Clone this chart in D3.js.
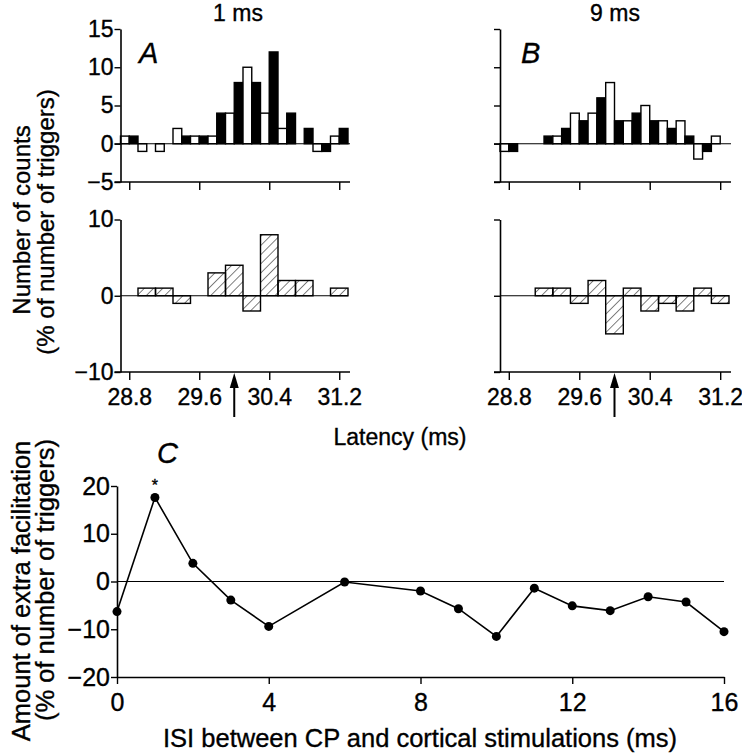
<!DOCTYPE html>
<html lang="en">
<head>
  <meta charset="UTF-8">
  <title>Extra facilitation</title>
  <style>
    body { margin: 0; background: #fff; }
    text { font-family: "Liberation Sans", Arial, sans-serif; fill: #000; stroke: #000; stroke-width: 0.35px; }
  </style>
</head>
<body>
<script src="https://cdn.jsdelivr.net/npm/d3@7/dist/d3.min.js"></script>
<script>
  const width = 742, height = 756

  // histogram bins (ms), each bin 0.2 ms, split into open (left) and filled (right) halves
  const binStarts = [28.7, 28.9, 29.1, 29.3, 29.5, 29.7, 29.9, 30.1, 30.3, 30.5, 30.7, 30.9, 31.1]
  const latencyTicks = [28.8, 29.6, 30.4, 31.2]

  // panel A (ISI 1 ms)
  const openA   = [1, -1, -1, 2, 1, 1, 4, 10, 4, 2, 0, -1, 1]
  const filledA = [1, 0, 0, 1, 1, 4, 8, 8, 12, 4, 2, -1, 2]
  const diffA   = [0, 1, 1, -1, 0, 3, 4, -2, 8, 2, 2, 0, 1]

  // panel B (ISI 9 ms)
  const openB   = [-1, 0, 0, 1, 4, 4, 8, 3, 5, 3, 3, -2, 1]
  const filledB = [-1, 0, 1, 2, 3, 6, 3, 4, 3, 2, 1, -1, 0]
  const diffB   = [0, 0, 1, 1, -1, 2, -5, 1, -2, -1, -2, 1, -1]

  const arrowLatency = 30.0

  // panel C
  const isi   = [0, 1, 2, 3, 4, 6, 8, 9, 10, 11, 12, 13, 14, 15, 16]
  const extra = [-6.3, 17.6, 3.8, -3.9, -9.4, -0.1, -2.0, -5.7, -11.5, -1.4, -5.1, -6.1, -3.2, -4.3, -10.5]
  const isiTicks = [0, 4, 8, 12, 16]
  const extraTicks = [-20, -10, 0, 10, 20]

  const svg = d3.select("body").append("svg")
    .attr("width", width).attr("height", height)

  // hatch pattern
  svg.append("defs").append("pattern")
    .attr("id", "hatch")
    .attr("patternUnits", "userSpaceOnUse")
    .attr("width", 6.5).attr("height", 6.5)
    .attr("patternTransform", "rotate(45)")
    .append("line")
    .attr("x1", 0).attr("y1", 0).attr("x2", 0).attr("y2", 6.5)
    .attr("stroke", "#000").attr("stroke-width", 1)

  const fs = 23

  function histPanel(opts) {
    const x = d3.scaleLinear().domain([28.7, 31.3]).range(opts.xr)
    const yT = d3.scaleLinear().domain([-5, 15]).range([182, 29])
    const yB = d3.scaleLinear().domain([-10, 10]).range([372, 219.5])
    const g = svg.append("g")

    // top histogram
    const top = g.append("g")
    binStarts.forEach((b, i) => {
      const v1 = opts.open[i], v2 = opts.filled[i]
      if (v1 !== 0) top.append("rect")
        .attr("x", x(b)).attr("width", x(b + 0.1) - x(b))
        .attr("y", yT(Math.max(v1, 0))).attr("height", Math.abs(yT(v1) - yT(0)))
        .attr("fill", "#fff").attr("stroke", "#000").attr("stroke-width", 1.4)
      if (v2 !== 0) top.append("rect")
        .attr("x", x(b + 0.1)).attr("width", x(b + 0.2) - x(b + 0.1))
        .attr("y", yT(Math.max(v2, 0))).attr("height", Math.abs(yT(v2) - yT(0)))
        .attr("fill", "#000").attr("stroke", "#000").attr("stroke-width", 1.4)
    })
    top.append("line")
      .attr("x1", x(28.7) - 6).attr("x2", x(31.3) + 2)
      .attr("y1", yT(0)).attr("y2", yT(0))
      .attr("stroke", "#000").attr("stroke-width", 1.2)

    const yAxT = top.append("g").attr("transform", `translate(${x(28.7)},0)`)
      .call(d3.axisLeft(yT).tickValues([-5, 0, 5, 10, 15]).tickSize(6).tickSizeOuter(0)
        .tickFormat(opts.labels ? d3.format("d") : ""))
    const xAxT = top.append("g").attr("transform", `translate(0,${yT(-5)})`)
      .call(d3.axisBottom(x).tickValues(latencyTicks).tickSize(8).tickSizeOuter(0).tickFormat(""))

    // bottom difference histogram
    const bot = g.append("g")
    binStarts.forEach((b, i) => {
      const v = opts.diff[i]
      if (v === 0) return
      bot.append("rect")
        .attr("x", x(b)).attr("width", x(b + 0.2) - x(b))
        .attr("y", yB(Math.max(v, 0))).attr("height", Math.abs(yB(v) - yB(0)))
        .attr("fill", "url(#hatch)").attr("stroke", "#000").attr("stroke-width", 1.4)
    })
    bot.append("line")
      .attr("x1", x(28.7)).attr("x2", x(31.3))
      .attr("y1", yB(0)).attr("y2", yB(0))
      .attr("stroke", "#000").attr("stroke-width", 1.2)
    const yAxB = bot.append("g").attr("transform", `translate(${x(28.7)},0)`)
      .call(d3.axisLeft(yB).tickValues([-10, 0, 10]).tickSize(6).tickSizeOuter(0)
        .tickFormat(opts.labels ? d3.format("d") : ""))
    const xAxB = bot.append("g").attr("transform", `translate(0,${yB(-10)})`)
      .call(d3.axisBottom(x).tickValues(latencyTicks).tickSize(8).tickSizeOuter(0)
        .tickFormat(d3.format(".1f")))

    ;[yAxT, xAxT, yAxB, xAxB].forEach(a => {
      a.select(".domain").attr("stroke-width", 1.6)
      a.selectAll(".tick line").attr("stroke-width", 1.4)
      a.selectAll("text").attr("font-size", fs).attr("font-family", null)
    })
    xAxT.select(".domain").attr("d", `M${x(28.7) - 6},0H${x(31.3) + 2}`)
    xAxB.select(".domain").attr("d", `M${x(28.7) - 6},0H${x(31.3) + 2}`)
    xAxB.selectAll(".tick text").attr("dy", "0.95em")
    yAxT.selectAll(".tick text").attr("x", -7)
    yAxB.selectAll(".tick text").attr("x", -7)

    // arrow marking latency
    const ax = x(arrowLatency)
    g.append("line").attr("x1", ax).attr("x2", ax)
      .attr("y1", yB(-10) + 12).attr("y2", yB(-10) + 45)
      .attr("stroke", "#000").attr("stroke-width", 2)
    g.append("path")
      .attr("d", `M${ax},${yB(-10) + 1}L${ax - 4.5},${yB(-10) + 16}L${ax + 4.5},${yB(-10) + 16}Z`)
      .attr("fill", "#000")

    // titles
    g.append("text").attr("x", opts.titleX).attr("y", 21)
      .attr("text-anchor", "middle").attr("font-size", fs).text(opts.title)
    g.append("text").attr("x", opts.letterX).attr("y", 63)
      .attr("font-size", 29).attr("font-style", "italic").text(opts.letter)
  }

  histPanel({ xr: [120.5, 348], open: openA, filled: filledA, diff: diffA,
    labels: true, title: "1 ms", titleX: 238, letter: "A", letterX: 139 })
  histPanel({ xr: [500, 729], open: openB, filled: filledB, diff: diffB,
    labels: false, title: "9 ms", titleX: 615, letter: "B", letterX: 521 })

  // shared labels for A/B
  svg.append("text").attr("text-anchor", "middle").attr("font-size", 24)
    .attr("transform", "translate(30,220) rotate(-90)").text("Number of counts")
  svg.append("text").attr("text-anchor", "middle").attr("font-size", 24)
    .attr("transform", "translate(54,222) rotate(-90)").text("(% of number of triggers)")
  svg.append("text").attr("x", 400).attr("y", 445)
    .attr("text-anchor", "middle").attr("font-size", fs).text("Latency (ms)")

  // panel C
  const xC = d3.scaleLinear().domain([0, 16]).range([117, 724])
  const yC = d3.scaleLinear().domain([-20, 20]).range([677, 486])
  const gC = svg.append("g")

  gC.append("line").attr("x1", xC(0)).attr("x2", xC(16))
    .attr("y1", yC(0)).attr("y2", yC(0)).attr("stroke", "#000").attr("stroke-width", 1.2)

  const yAxC = gC.append("g").attr("transform", `translate(${xC(0)},0)`)
    .call(d3.axisLeft(yC).tickValues(extraTicks).tickSize(6).tickSizeOuter(0))
  const xAxC = gC.append("g").attr("transform", `translate(0,${yC(-20)})`)
    .call(d3.axisBottom(xC).tickValues(isiTicks).tickSize(7).tickSizeOuter(0))
  ;[yAxC, xAxC].forEach(a => {
    a.select(".domain").attr("stroke-width", 1.6)
    a.selectAll(".tick line").attr("stroke-width", 1.4)
    a.selectAll("text").attr("font-size", 25).attr("font-family", null)
  })
  yAxC.selectAll(".tick text").attr("x", -7)
  xAxC.selectAll(".tick text").attr("dy", "0.95em")

  gC.append("path").datum(isi.map((d, i) => [d, extra[i]]))
    .attr("d", d3.line().x(d => xC(d[0])).y(d => yC(d[1])))
    .attr("fill", "none").attr("stroke", "#000").attr("stroke-width", 1.6)
  gC.selectAll("circle").data(isi.map((d, i) => [d, extra[i]])).enter()
    .append("circle")
    .attr("cx", d => xC(d[0])).attr("cy", d => yC(d[1])).attr("r", 4.5)
    .attr("fill", "#000")

  gC.append("text").attr("x", xC(1)).attr("y", yC(extra[1]) - 6)
    .attr("text-anchor", "middle").attr("font-size", 16).text("*")

  gC.append("text").attr("x", 157).attr("y", 463)
    .attr("font-size", 29).attr("font-style", "italic").text("C")

  svg.append("text").attr("text-anchor", "middle").attr("font-size", 25.5)
    .attr("transform", "translate(30,591) rotate(-90)").text("Amount of extra facilitation")
  svg.append("text").attr("text-anchor", "middle").attr("font-size", 25.5)
    .attr("transform", "translate(54,580) rotate(-90)").text("(% of number of triggers)")
  svg.append("text").attr("x", 420).attr("y", 747)
    .attr("text-anchor", "middle").attr("font-size", 25.5)
    .text("ISI between CP and cortical stimulations (ms)")
</script>
</body>
</html>
